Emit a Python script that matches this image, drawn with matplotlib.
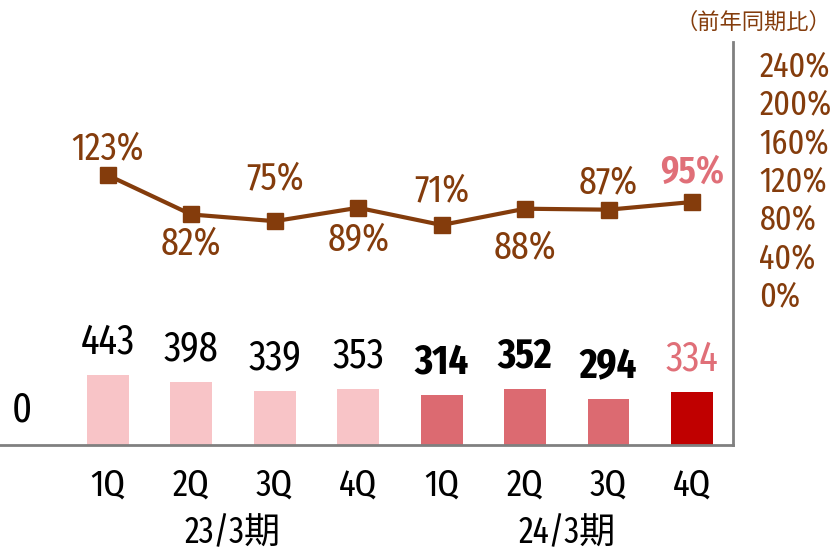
import matplotlib.pyplot as plt
import numpy as np

plt.rcParams['font.family'] = ['Fira Sans Extra Condensed', 'Noto Sans CJK JP', 'DejaVu Sans']

quarters = ['1Q', '2Q', '3Q', '4Q', '1Q', '2Q', '3Q', '4Q']
periods = ['23/3期', '24/3期']
sales = [443, 398, 339, 353, 314, 352, 294, 334]
yoy = [123, 82, 75, 89, 71, 88, 87, 95]
right_ticks = [0, 40, 80, 120, 160, 200, 240]

bar_colors = ['#F8C4C7'] * 4 + ['#DC6A71'] * 3 + ['#C00000']
sales_text_colors = ['black'] * 7 + ['#E06F78']
sales_weights = ['normal'] * 4 + ['bold'] * 3 + ['normal']
yoy_text_colors = ['#843C0C'] * 7 + ['#E06F78']
yoy_weights = ['normal'] * 7 + ['semibold']
# label offset (points) from the marker: positive above, negative below
yoy_offsets = [19, -21, 31, -23, 25, -28, 20, 21]

brown = '#843C0C'
grey = '#808080'

fig = plt.figure(figsize=(8.35, 5.53), dpi=100)
ax = fig.add_axes([0, 1 - 445 / 553, 733 / 835, (445 - 42) / 553])
x = np.arange(len(sales))

ax.bar(x, sales, width=0.5, color=bar_colors)
ax.set_xlim(-1.29, 7.49)
ax.set_ylim(0, 443 * 403 / 70)
for i, v in enumerate(sales):
    ax.annotate(str(v), (x[i], v), xytext=(0, 15.5), textcoords='offset points',
                ha='center', va='baseline', fontsize=30,
                color=sales_text_colors[i], fontweight=sales_weights[i])
ax.text(0.03, 0.087, '0', transform=ax.transAxes, fontsize=30, ha='center', va='center')

for s in ['left', 'top', 'right']:
    ax.spines[s].set_visible(False)
ax.spines['bottom'].set_color(grey)
ax.spines['bottom'].set_linewidth(2)
ax.set_yticks([])
ax.set_xticks(x)
ax.set_xticklabels(quarters, fontsize=27)
ax.tick_params(axis='x', length=0, pad=16)
ax.text(1.5, -0.218, periods[0], transform=ax.get_xaxis_transform(), fontsize=26, ha='center', va='center')
ax.text(5.5, -0.218, periods[1], transform=ax.get_xaxis_transform(), fontsize=26, ha='center', va='center')

ax2 = ax.twinx()
ax2.plot(x, yoy, color=brown, lw=3, marker='s', markersize=12, zorder=3)
ax2.set_ylim(-158.6, 262)
ax2.set_yticks(right_ticks)
ax2.set_yticklabels([f'{t}%' for t in right_ticks], fontsize=25, color=brown)
ax2.tick_params(axis='y', length=0, pad=19)
for s in ['left', 'top', 'bottom']:
    ax2.spines[s].set_visible(False)
ax2.spines['right'].set_color(grey)
ax2.spines['right'].set_linewidth(2)
for i, v in enumerate(yoy):
    ax2.annotate(f'{v}%', (x[i], v), xytext=(0, yoy_offsets[i]), textcoords='offset points',
                 ha='center', va='center', fontsize=28,
                 color=yoy_text_colors[i], fontweight=yoy_weights[i])

fig.text(0.995, 1 - 23 / 553, '（前年同期比）', fontsize=16, color=brown, ha='right', va='center')

fig.savefig('out.png', dpi=100)
